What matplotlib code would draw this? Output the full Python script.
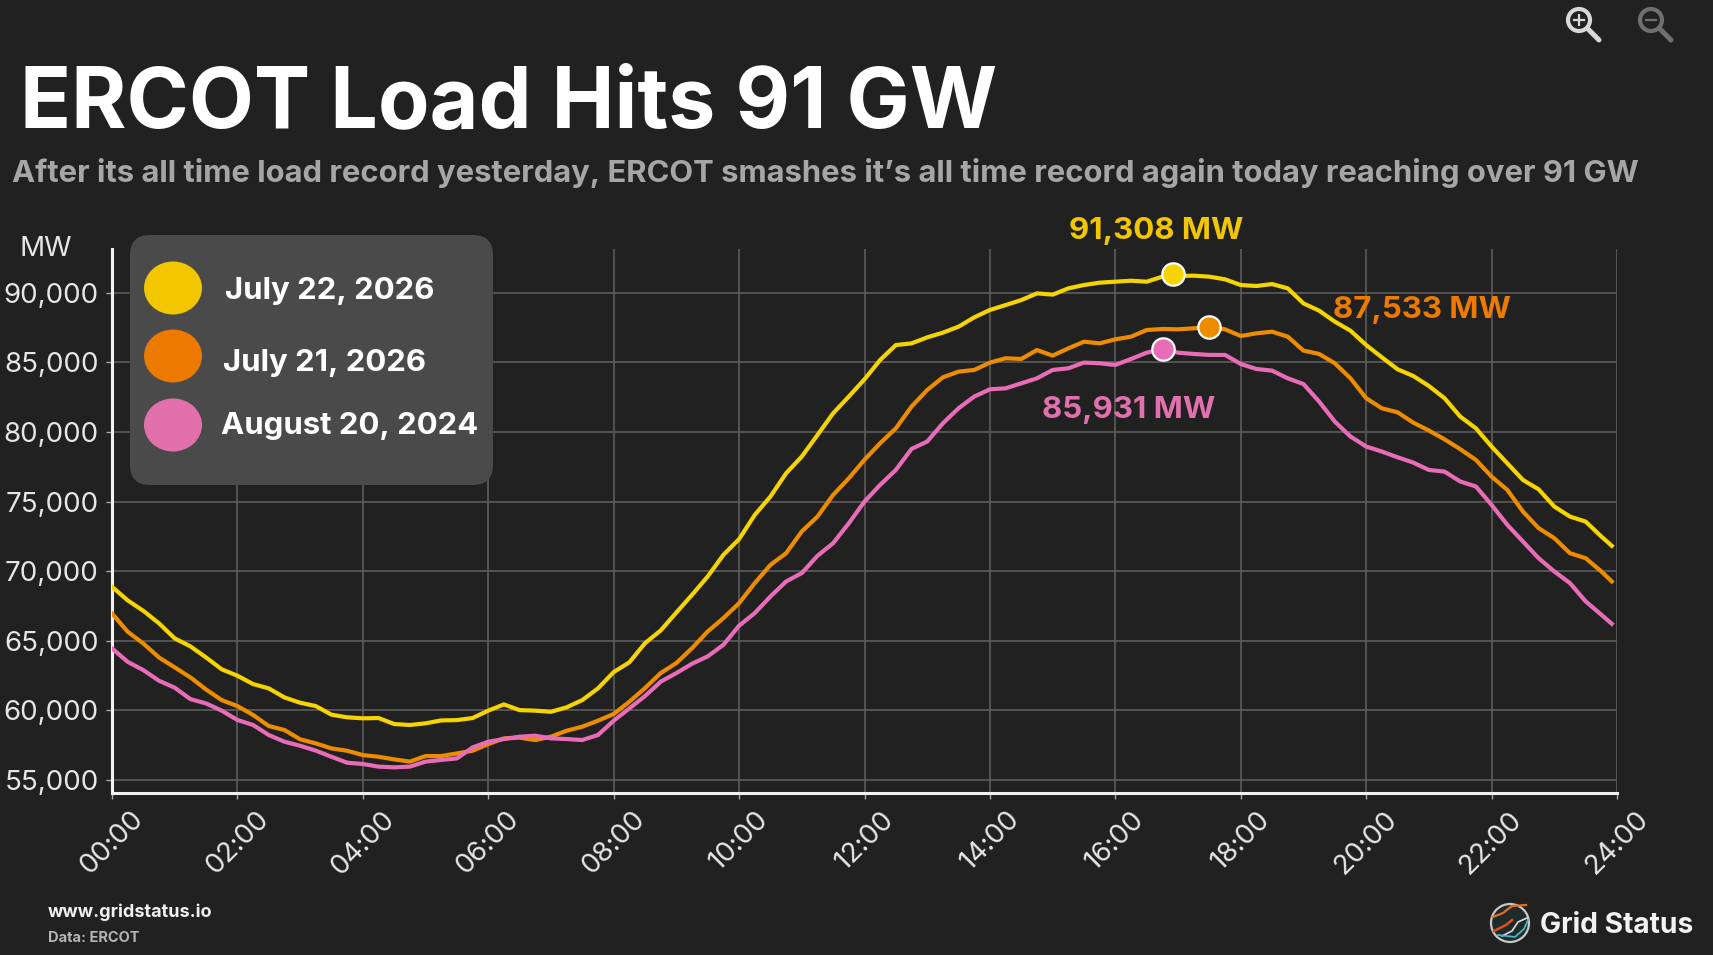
"""ERCOT daily load curves, dark theme."""

import matplotlib

matplotlib.use("Agg")

import matplotlib.pyplot as plt
from matplotlib.patches import Circle, Ellipse, FancyBboxPatch

# quarter hour readings, last one is 23:55
minutes = [i * 15 for i in range(96)] + [1435]

load_jul22 = [
    68880, 67900, 67150, 66250, 65170, 64600, 63800, 62950,
    62490, 61890, 61580, 60930, 60550, 60310, 59690, 59500,
    59430, 59450, 59020, 58950, 59070, 59280, 59300, 59450,
    59980, 60430, 60020, 59980, 59900, 60220, 60740, 61580,
    62750, 63450, 64830, 65740, 67030, 68300, 69620, 71170,
    72300, 74040, 75360, 77030, 78230, 79780, 81340, 82540,
    83780, 85170, 86240, 86360, 86790, 87130, 87560, 88230,
    88760, 89110, 89470, 89950, 89860, 90310, 90550, 90720,
    90790, 90860, 90790, 91150, 91200, 91220, 91150, 90960,
    90550, 90480, 90620, 90310, 89230, 88710, 87920, 87270,
    86240, 85360, 84500, 84020, 83300, 82420, 81100, 80260,
    78950, 77750, 76550, 75880, 74640, 73920, 73560, 72490,
    71820,
]
load_jul21 = [
    66960, 65650, 64800, 63800, 63090, 62370, 61500, 60740,
    60310, 59670, 58880, 58590, 57920, 57630, 57270, 57100,
    56790, 56670, 56480, 56320, 56720, 56720, 56910, 57100,
    57580, 57990, 58040, 57870, 58110, 58540, 58830, 59260,
    59740, 60620, 61600, 62680, 63400, 64470, 65670, 66630,
    67700, 69140, 70450, 71290, 72850, 73920, 75480, 76670,
    78000, 79190, 80260, 81820, 83010, 83920, 84330, 84450,
    84980, 85290, 85240, 85880, 85480, 86000, 86480, 86360,
    86650, 86840, 87320, 87390, 87370, 87440, 87533, 87370,
    86890, 87080, 87200, 86840, 85840, 85600, 84930, 83850,
    82420, 81700, 81410, 80670, 80100, 79470, 78760, 77990,
    76790, 75840, 74280, 73090, 72370, 71290, 70930, 69980,
    69260,
]
load_aug20 = [
    64450, 63490, 62890, 62130, 61630, 60810, 60500, 59980,
    59310, 58950, 58230, 57750, 57460, 57110, 56670, 56240,
    56150, 55960, 55910, 55960, 56320, 56440, 56550, 57340,
    57750, 57940, 58110, 58180, 57990, 57940, 57870, 58230,
    59260, 60140, 61030, 62060, 62680, 63350, 63880, 64710,
    66080, 66990, 68180, 69260, 69860, 71100, 72010, 73440,
    75000, 76200, 77270, 78780, 79310, 80620, 81700, 82540,
    83060, 83130, 83490, 83850, 84450, 84570, 84980, 84930,
    84810, 85240, 85690, 85931, 85690, 85600, 85530, 85530,
    84880, 84520, 84400, 83850, 83440, 82180, 80740, 79670,
    78950, 78590, 78180, 77800, 77270, 77150, 76440, 76080,
    74760, 73330, 72130, 70930, 69980, 69140, 67830, 66870,
    66220,
]

series_labels = ["July 22, 2026", "July 21, 2026", "August 20, 2024"]
peak_hours = [16.92, 17.5, 16.76]
peak_values = [91308, 87533, 85931]
y_ticks = [55000, 60000, 65000, 70000, 75000, 80000, 85000, 90000]
x_ticks = list(range(0, 25, 2))

BG = "#212121"
LINE_COLORS = ["#f5d400", "#ee8c00", "#e86cb6"]
SWATCH_COLORS = ["#f2c700", "#ec7a00", "#e271ab"]
LABEL_COLORS = ["#f2c600", "#ee7b00", "#e070ae"]

plt.rcParams["font.family"] = ["Inter", "DejaVu Sans"]

W, H = 1713, 955
fig = plt.figure(figsize=(W / 100, H / 100), dpi=100, facecolor=BG)

left, right, top, bottom = 112, 1617, 249, 793
ax = fig.add_axes([left / W, 1 - bottom / H, (right - left) / W, (bottom - top) / H])
ax.set_facecolor(BG)

hours = [m / 60 for m in minutes]
for values, color in zip([load_jul22, load_jul21, load_aug20], LINE_COLORS):
    ax.plot(hours, values, color=color, linewidth=3.0, solid_joinstyle="round", zorder=3)

for hour, value, color in zip(peak_hours, peak_values, LINE_COLORS):
    ax.scatter(hour, value, s=260, color=color, edgecolor="white", linewidth=1.6, zorder=5)

ax.set_xlim(0, 24)
ax.set_ylim(54066, 93138)
ax.set_xticks(x_ticks)
ax.set_xticklabels([f"{h:02d}:00" for h in x_ticks], rotation=45, ha="center")
ax.set_yticks(y_ticks)
ax.set_yticklabels([f"{v:,}" for v in y_ticks])
ax.tick_params(axis="both", labelcolor="#e6e6e6", labelsize=20, length=4.5, width=1, color="#aaaaaa", pad=5)
ax.grid(True, color="#5c5c5c", linewidth=1.2)
ax.set_axisbelow(True)

for side in ["top", "right"]:
    ax.spines[side].set_visible(False)
for side in ["left", "bottom"]:
    ax.spines[side].set_color("#f2f2f2")
    ax.spines[side].set_linewidth(2.2)

# overlay in pixel coordinates for the header, legend and footer
over = fig.add_axes([0, 0, 1, 1], zorder=10)
over.set_xlim(0, W)
over.set_ylim(H, 0)
over.axis("off")

over.text(20, 106, "ERCOT Load Hits 91 GW", color="white", fontsize=60.7, fontweight="bold", va="center")
over.text(
    12, 173,
    "After its all time load record yesterday, ERCOT smashes it\u2019s all time record again today reaching over 91 GW",
    color="#a6a6a6", fontsize=22.3, fontweight="bold", va="center",
)
over.text(20, 249, "MW", color="#e6e6e6", fontsize=20, va="center")

over.add_patch(FancyBboxPatch(
    (130, 235), 363, 250, boxstyle="round,pad=0,rounding_size=20",
    facecolor="#4a4a4a", edgecolor="none",
))
legend_y = [288, 356, 425]
legend_text_x = [225, 223, 221]
legend_text_y = [291, 363, 426]
for i, label in enumerate(series_labels):
    over.add_patch(Ellipse((173, legend_y[i]), 58, 53, color=SWATCH_COLORS[i], linewidth=0))
    over.text(legend_text_x[i], legend_text_y[i], label, color="white", fontsize=22.4, fontweight="bold", va="center")

label_x = [1069, 1333, 1042]
label_y = [231, 310, 410]
for i, value in enumerate(peak_values):
    over.text(label_x[i], label_y[i], f"{value:,} MW", color=LABEL_COLORS[i], fontsize=22.5, fontweight="bold", va="center")

over.text(48, 912, "www.gridstatus.io", color="#f0f0f0", fontsize=13, fontweight="bold", va="center")
over.text(48, 938, "Data: ERCOT", color="#b5b5b5", fontsize=10.5, fontweight="bold", va="center")
over.text(1540, 925, "Grid Status", color="#f2f2f2", fontsize=20.3, fontweight="bold", va="center")

# logo
over.add_patch(Circle((1510, 923), 19, facecolor="#1f2a2c", edgecolor="#c8c8c8", linewidth=1.6))
over.plot([1493, 1503, 1512, 1526], [917, 913, 906, 905], color="#e0701c", linewidth=1.6)
over.plot([1494, 1506, 1512], [931, 925, 920], color="#e0501c", linewidth=1.8)
over.plot([1502, 1512, 1518, 1527], [936, 931, 922, 918], color="#dddddd", linewidth=1.2)
over.plot([1498, 1515, 1524, 1528], [935, 937, 929, 920], color="#49b6c6", linewidth=1.3)

# zoom icons
for cx, color, plus in [(1579, "#d8d8d8", True), (1651, "#707070", False)]:
    over.add_patch(Circle((cx, 20), 11, facecolor="none", edgecolor=color, linewidth=3))
    over.plot([cx + 9, cx + 20], [29, 40], color=color, linewidth=3.6, solid_capstyle="round")
    over.plot([cx - 5, cx + 5], [20, 20], color=color, linewidth=1.6)
    if plus:
        over.plot([cx, cx], [15, 25], color=color, linewidth=1.6)

fig.savefig("out.png", dpi=100, facecolor=BG)
